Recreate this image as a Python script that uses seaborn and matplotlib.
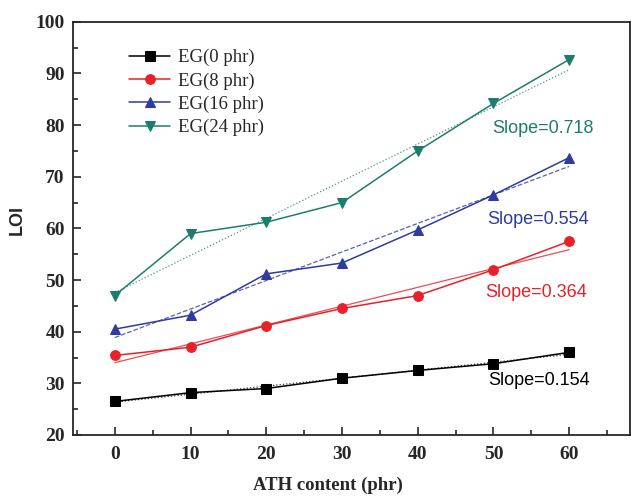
import matplotlib
matplotlib.use("Agg")
import matplotlib.pyplot as plt
import seaborn as sns
import numpy as np
import pandas as pd
from matplotlib.ticker import MultipleLocator

ath = [0, 10, 20, 30, 40, 50, 60]
eg0 = [26.5, 28.2, 29.0, 31.0, 32.5, 33.8, 36.0]
eg8 = [35.4, 37.0, 41.2, 44.5, 47.0, 52.0, 57.5]
eg16 = [40.5, 43.2, 51.2, 53.3, 59.7, 66.5, 73.7]
eg24 = [47.0, 59.0, 61.2, 65.0, 75.0, 84.2, 92.7]
labels = ["EG(0 phr)", "EG(8 phr)", "EG(16 phr)", "EG(24 phr)"]
slope_text = ["Slope=0.154", "Slope=0.364", "Slope=0.554", "Slope=0.718"]

series = [eg0, eg8, eg16, eg24]
colors = ["black", "#e8202a", "#2d3c9e", "#1d7d6d"]
markers = ["s", "o", "^", "v"]
fit_styles = [":", "-", "--", ":"]
text_pos = [(56.0, 30.5), (55.6, 47.5), (55.9, 61.7), (56.6, 79.3)]

sns.set_style("ticks")
fig = plt.figure(figsize=(6.31, 4.96), dpi=100)
ax = fig.add_axes([0.116, 0.123, 0.882, 0.833])

for lab, vals, c, m, fs, txt, pos in zip(labels, series, colors, markers,
                                         fit_styles, slope_text, text_pos):
    df = pd.DataFrame({"ATH": ath, "LOI": vals})
    sns.lineplot(data=df, x="ATH", y="LOI", color=c, marker=m, markersize=7,
                 markeredgecolor=c, linewidth=1.1, label=lab, ax=ax)
    # linear fit drawn thin behind the data
    k, b = np.polyfit(ath, vals, 1)
    xx = np.array([ath[0], ath[-1]])
    ax.plot(xx, k * xx + b, color=c, linestyle=fs, linewidth=0.9, alpha=0.8)
    ax.text(pos[0], pos[1], txt, color=c, fontsize=13, ha="center", va="center",
            family="Liberation Sans")

ax.set_xlim(-5.5, 68)
ax.set_ylim(20, 100)
ax.xaxis.set_major_locator(MultipleLocator(10))
ax.xaxis.set_minor_locator(MultipleLocator(5))
ax.yaxis.set_major_locator(MultipleLocator(10))
ax.yaxis.set_minor_locator(MultipleLocator(5))
ax.tick_params(which="major", direction="in", length=6, width=1.2)
ax.tick_params(which="minor", direction="in", length=3.5, width=1.2)
ax.tick_params(axis="x", which="major", pad=8)
ax.tick_params(axis="y", which="major", pad=6)
for lbl in ax.get_xticklabels() + ax.get_yticklabels():
    lbl.set_family("Liberation Serif")
    lbl.set_fontweight("bold")
    lbl.set_fontsize(14)
for sp in ax.spines.values():
    sp.set_linewidth(1.3)

ax.set_xlabel("ATH content (phr)", fontsize=13.5, fontweight="bold",
              family="Liberation Serif")
ax.xaxis.set_label_coords(0.458, -0.102)
ax.set_ylabel("LOI", fontsize=13, fontweight="bold", family="Liberation Sans")
ax.yaxis.set_label_coords(-0.085, 0.52)

leg = ax.legend(loc="upper left", bbox_to_anchor=(0.07, 0.975), frameon=False,
                prop={"family": "Liberation Serif", "size": 13.5},
                handlelength=2.2, handletextpad=0.4, labelspacing=0.32)

fig.savefig("out.png", dpi=100)
